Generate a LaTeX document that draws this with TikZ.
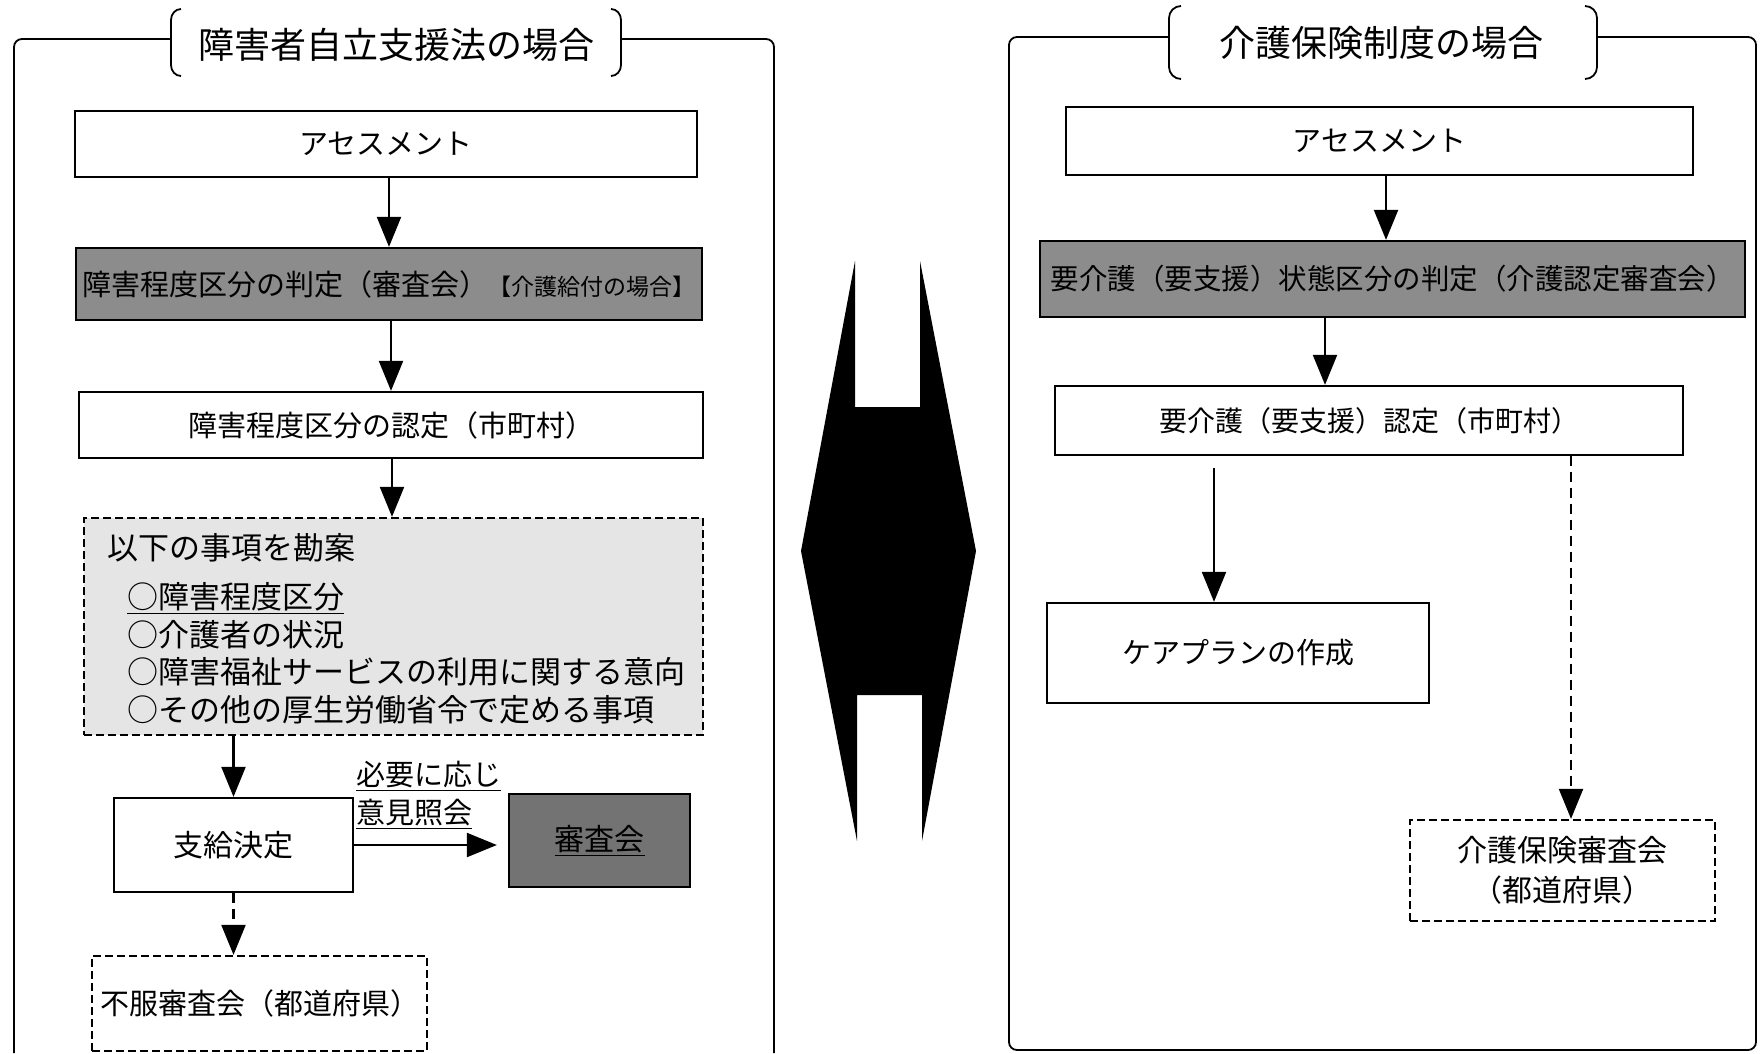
\documentclass[tikz,border=0pt]{standalone}
\usepackage{fontspec}
\setmainfont{Noto Sans CJK JP}
\usetikzlibrary{arrows.meta}
\tikzset{
  fs/.style={font={\fontsize{#1pt}{#1pt}\selectfont}},
  boxst/.style={draw, line width=2.3pt, fill=white, inner sep=0pt, fs=29},
  darkst/.style={boxst, fill=black!45},
  dashst/.style={draw, line width=2.3pt, dash pattern=on 8pt off 4pt, inner sep=0pt, fs=29},
  arrst/.style={line width=2.2pt, -{Triangle[length=30pt,width=24pt]}},
  darrst/.style={arrst, dash pattern=on 10pt off 6pt},
  framest/.style={line width=1.8pt, rounded corners=8pt},
  brst/.style={line width=1.8pt},
  listst/.style={inner sep=0pt, anchor=west, fs=31},
}
\begin{document}
\begin{tikzpicture}[x=1pt,y=-1pt]
\fill[white] (0,0) rectangle (1763,1053);
\useasboundingbox (0,0) rectangle (1763,1053);

% ---------- left frame ----------
\draw[framest] (171,39) -- (14,39) -- (14,1053);
\draw[framest] (621,39) -- (774,39) -- (774,1053);
\draw[brst] (181,9) to[out=180,in=90] (171,20) -- (171,65) to[out=-90,in=180] (181,76);
\draw[brst] (611,9) to[out=0,in=90] (621,20) -- (621,65) to[out=-90,in=0] (611,76);
\node[fs=36, inner sep=0pt] (TL) at (396,45) {障害者自立支援法の場合};

\node[boxst, minimum width=622pt, minimum height=66pt] (LA) at (386,144) {アセスメント};
\node[darkst, minimum width=626pt, minimum height=72pt] (LJ) at (389,284)
  {\fontsize{29pt}{29pt}\selectfont 障害程度区分の判定（審査会）\fontsize{23pt}{23pt}\selectfont 【介護給付の場合】};
\node[boxst, minimum width=624pt, minimum height=66pt] (LN) at (391,425) {障害程度区分の認定（市町村）};
\node[dashst, fill=black!10, minimum width=619pt, minimum height=217pt] (LK) at (393.5,626.5) {};
\node[listst] (L1) at (107,548) {以下の事項を勘案};
\node[listst] (L2) at (127,598) {\underline{○障害程度区分}};
\node[listst] (L3) at (127,635) {○介護者の状況};
\node[listst] (L4) at (127,672) {○障害福祉サービスの利用に関する意向};
\node[listst] (L5) at (127,710) {○その他の厚生労働省令で定める事項};
\node[boxst, fs=30, minimum width=239pt, minimum height=94pt] (LS) at (233.5,845) {支給決定};
\node[darkst, fill=black!55, fs=30, minimum width=181pt, minimum height=93pt] (LR) at (599.5,840.5) {\underline{審査会}};
\node[fs=29, inner sep=0pt, anchor=west, align=left] (LQ) at (356,795) {\underline{必要に応じ}\\[9pt]\underline{意見照会}};
\node[dashst, minimum width=335pt, minimum height=95pt] (LF) at (259.5,1003.5) {不服審査会（都道府県）};

\draw[arrst] ([xshift=3pt]LA.south) -- ([xshift=3pt]LA.south |- LJ.north);
\draw[arrst] ([xshift=2pt]LJ.south) -- ([xshift=2pt]LJ.south |- LN.north);
\draw[arrst] ([xshift=1pt]LN.south) -- ([xshift=1pt]LN.south |- LK.north);
\draw[arrst] (LS.north |- LK.south) -- (LS.north);
\draw[darrst] (LS.south) -- (LS.south |- LF.north);
\draw[arrst, shorten >=11pt] (LS.east) -- (LS.east -| LR.west);

% ---------- middle double arrow ----------
\fill[black] (855,261) -- (855,407) -- (920,407) -- (920,261) -- (976,551)
  -- (922,841) -- (922,695) -- (857,695) -- (857,841) -- (801,551) -- cycle;

% ---------- right frame ----------
\draw[framest] (1169,37) -- (1009,37) -- (1009,1050) -- (1756,1050) -- (1756,37) -- (1597,37);
\draw[brst] (1181,6) to[out=180,in=90] (1169,18) -- (1169,67) to[out=-90,in=180] (1181,79);
\draw[brst] (1585,6) to[out=0,in=90] (1597,18) -- (1597,67) to[out=-90,in=0] (1585,79);
\node[fs=36, inner sep=0pt] (TR) at (1381,43) {介護保険制度の場合};

\node[boxst, minimum width=627pt, minimum height=68pt] (RA) at (1379.5,141) {アセスメント};
\node[darkst, fs=28.5, minimum width=705pt, minimum height=76pt] (RJ) at (1392.5,279) {要介護（要支援）状態区分の判定（介護認定審査会）};
\node[boxst, fs=28, minimum width=628pt, minimum height=69pt] (RN) at (1369,420.5) {要介護（要支援）認定（市町村）};
\node[boxst, minimum width=382pt, minimum height=100pt] (RC) at (1238,653) {ケアプランの作成};
\node[dashst, fs=30, align=center, minimum width=305pt, minimum height=101pt] (RR) at (1562.5,870.5) {介護保険審査会\\[10pt]（都道府県）};

\draw[arrst] ([xshift=6.5pt]RA.south) -- ([xshift=6.5pt]RA.south |- RJ.north);
\draw[arrst] ([xshift=-67.5pt]RJ.south) -- ([xshift=-67.5pt]RJ.south |- RN.north);
\draw[arrst, shorten <=12pt] ([xshift=-24pt]RC.north |- RN.south) -- ([xshift=-24pt]RC.north);
\draw[darrst] ([xshift=8.5pt]RR.north |- RN.south) -- ([xshift=8.5pt]RR.north);
\end{tikzpicture}
\end{document}
